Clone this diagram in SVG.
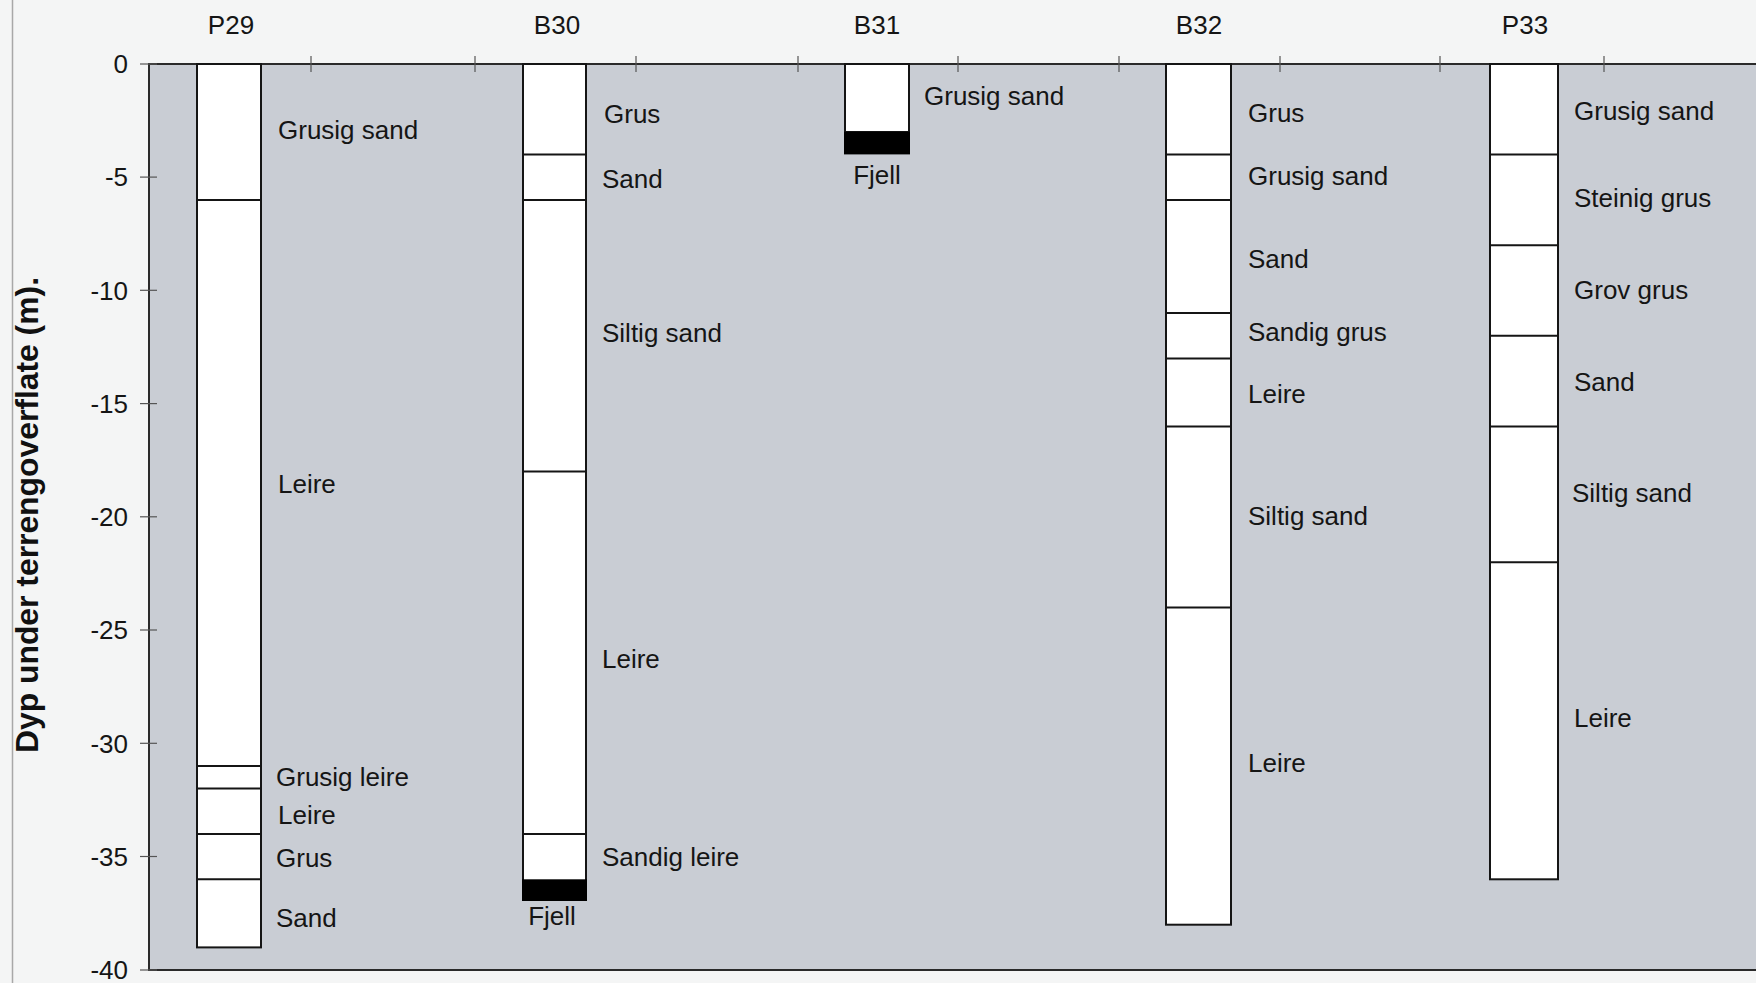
<svg xmlns="http://www.w3.org/2000/svg" width="1756" height="983" viewBox="0 0 1756 983">
<style>
.t{font-family:"Liberation Sans",Arial,sans-serif;font-size:26px;fill:#151515}
.h{font-family:"Liberation Sans",Arial,sans-serif;font-size:26px;fill:#151515;text-anchor:middle}
.n{font-family:"Liberation Sans",Arial,sans-serif;font-size:26px;fill:#151515;text-anchor:end}
.c{fill:#ffffff;stroke:#151515;stroke-width:2}
.b{stroke:#151515;stroke-width:2}
.k{fill:#000}
.ax{stroke:#2a2a2a;stroke-width:2;fill:none}
.tk{stroke:#555;stroke-width:1.2}
</style>
<rect x="0" y="0" width="1756" height="983" fill="#f4f5f5"/>
<line x1="12.5" y1="0" x2="12.5" y2="983" stroke="#a8a8a8" stroke-width="1.5"/>
<rect x="149" y="64" width="1607" height="906" fill="#c9cdd4"/>
<g id="axes">
<polyline class="ax" points="1756,64 149,64 149,970 1756,970"/>
<g class="tk">
<line x1="311" y1="56" x2="311" y2="72"/><line x1="475" y1="56" x2="475" y2="72"/><line x1="636" y1="56" x2="636" y2="72"/>
<line x1="798" y1="56" x2="798" y2="72"/><line x1="958" y1="56" x2="958" y2="72"/><line x1="1119" y1="56" x2="1119" y2="72"/>
<line x1="1280" y1="56" x2="1280" y2="72"/><line x1="1440" y1="56" x2="1440" y2="72"/><line x1="1604" y1="56" x2="1604" y2="72"/>
<line x1="140" y1="64" x2="157" y2="64"/><line x1="140" y1="177.1" x2="157" y2="177.1"/><line x1="140" y1="290.3" x2="157" y2="290.3"/>
<line x1="140" y1="403.6" x2="157" y2="403.6"/><line x1="140" y1="516.8" x2="157" y2="516.8"/><line x1="140" y1="630" x2="157" y2="630"/>
<line x1="140" y1="743.3" x2="157" y2="743.3"/><line x1="140" y1="856.5" x2="157" y2="856.5"/><line x1="140" y1="970" x2="157" y2="970"/>
</g>
<text class="n" x="128" y="73">0</text>
<text class="n" x="128" y="186">-5</text>
<text class="n" x="128" y="299.5">-10</text>
<text class="n" x="128" y="412.8">-15</text>
<text class="n" x="128" y="526">-20</text>
<text class="n" x="128" y="639.2">-25</text>
<text class="n" x="128" y="752.5">-30</text>
<text class="n" x="128" y="865.7">-35</text>
<text class="n" x="128" y="979">-40</text>
<text transform="translate(38,515) rotate(-90)" text-anchor="middle" font-family="'Liberation Sans',Arial,sans-serif" font-size="31" font-weight="bold" fill="#111" textLength="476" lengthAdjust="spacingAndGlyphs">Dyp under terrengoverflate (m).</text>
</g>
<g id="P29">
<text class="h" x="231" y="34">P29</text>
<rect class="c" x="197" y="64" width="64" height="883.4"/>
<line class="b" x1="197" y1="199.9" x2="261" y2="199.9"/>
<line class="b" x1="197" y1="766" x2="261" y2="766"/>
<line class="b" x1="197" y1="788.6" x2="261" y2="788.6"/>
<line class="b" x1="197" y1="833.9" x2="261" y2="833.9"/>
<line class="b" x1="197" y1="879.3" x2="261" y2="879.3"/>
<text class="t" x="278" y="139">Grusig sand</text>
<text class="t" x="278" y="493">Leire</text>
<text class="t" x="276" y="786">Grusig leire</text>
<text class="t" x="278" y="824">Leire</text>
<text class="t" x="276" y="867">Grus</text>
<text class="t" x="276" y="927">Sand</text>
</g>
<g id="B30">
<text class="h" x="557" y="34">B30</text>
<rect class="c" x="523" y="64" width="63" height="836"/>
<line class="b" x1="523" y1="154.6" x2="586" y2="154.6"/>
<line class="b" x1="523" y1="199.9" x2="586" y2="199.9"/>
<line class="b" x1="523" y1="471.6" x2="586" y2="471.6"/>
<line class="b" x1="523" y1="834" x2="586" y2="834"/>
<rect class="k" x="522" y="879.3" width="65" height="21.7"/>
<text class="t" x="604" y="123">Grus</text>
<text class="t" x="602" y="188">Sand</text>
<text class="t" x="602" y="342">Siltig sand</text>
<text class="t" x="602" y="668">Leire</text>
<text class="t" x="602" y="866">Sandig leire</text>
<text class="h" x="552" y="925">Fjell</text>
</g>
<g id="B31">
<text class="h" x="877" y="34">B31</text>
<rect class="c" x="845" y="64" width="64" height="68"/>
<rect class="k" x="844" y="131.8" width="66" height="22.6"/>
<text class="t" x="924" y="105">Grusig sand</text>
<text class="h" x="877" y="184">Fjell</text>
</g>
<g id="B32">
<text class="h" x="1199" y="34">B32</text>
<rect class="c" x="1166" y="64" width="65" height="860.7"/>
<line class="b" x1="1166" y1="154.6" x2="1231" y2="154.6"/>
<line class="b" x1="1166" y1="199.9" x2="1231" y2="199.9"/>
<line class="b" x1="1166" y1="313" x2="1231" y2="313"/>
<line class="b" x1="1166" y1="358.4" x2="1231" y2="358.4"/>
<line class="b" x1="1166" y1="426.4" x2="1231" y2="426.4"/>
<line class="b" x1="1166" y1="607.6" x2="1231" y2="607.6"/>
<text class="t" x="1248" y="122">Grus</text>
<text class="t" x="1248" y="185">Grusig sand</text>
<text class="t" x="1248" y="268">Sand</text>
<text class="t" x="1248" y="341">Sandig grus</text>
<text class="t" x="1248" y="403">Leire</text>
<text class="t" x="1248" y="525">Siltig sand</text>
<text class="t" x="1248" y="772">Leire</text>
</g>
<g id="P33">
<text class="h" x="1525" y="34">P33</text>
<rect class="c" x="1490" y="64" width="68" height="815.3"/>
<line class="b" x1="1490" y1="154.6" x2="1558" y2="154.6"/>
<line class="b" x1="1490" y1="245.2" x2="1558" y2="245.2"/>
<line class="b" x1="1490" y1="335.8" x2="1558" y2="335.8"/>
<line class="b" x1="1490" y1="426.4" x2="1558" y2="426.4"/>
<line class="b" x1="1490" y1="562.3" x2="1558" y2="562.3"/>
<text class="t" x="1574" y="120">Grusig sand</text>
<text class="t" x="1574" y="207">Steinig grus</text>
<text class="t" x="1574" y="299">Grov grus</text>
<text class="t" x="1574" y="391">Sand</text>
<text class="t" x="1572" y="502">Siltig sand</text>
<text class="t" x="1574" y="727">Leire</text>
</g>
<g id="connectors"></g>
</svg>
